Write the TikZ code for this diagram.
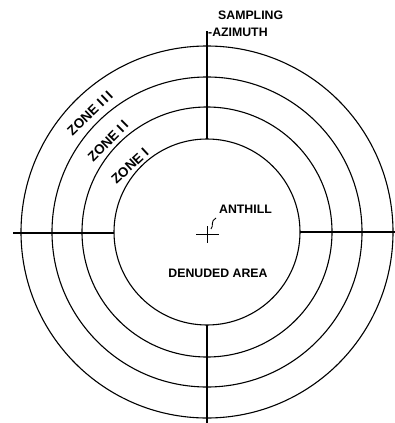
\documentclass[tikz,border=0pt]{standalone}
\usepackage{fontspec}
\setmainfont{Liberation Sans}
\begin{document}
\begin{tikzpicture}[x=1pt,y=-1pt,
  ring/.style={line width=1.1pt},
  axis/.style={line width=1.1pt},
  lbl/.style={inner sep=0pt, font=\fontsize{12.3}{13}\selectfont\bfseries},
  zone/.style={inner sep=0pt, font=\fontsize{13.5}{14}\selectfont\bfseries}]
\useasboundingbox (0,0) rectangle (395,423);
\coordinate (c) at (207,232);
% rings
\draw[ring] (c) circle[radius=186pt];
\draw[ring] (c) circle[radius=155pt];
\draw[ring] (c) circle[radius=125pt];
\draw[ring] (c) circle[radius=93pt];
% azimuth lines
\coordinate (l0) at (13,233);
\coordinate (l1) at (114,233);
\coordinate (r0) at (300,232);
\coordinate (r1) at (395,232);
\coordinate (t0) at (207,31);
\coordinate (t1) at (207,139);
\coordinate (b0) at (207,325);
\coordinate (b1) at (207,423);
\draw[axis] (l0) -- (l1);
\draw[axis] (r0) -- (r1);
\draw[axis] (t0) -- (t1);
\draw[axis] (b0) -- (b1);
% anthill cross
\coordinate (a) at (207,234);
\draw[line width=1pt] (196,234) -- (219,234);
\draw[line width=1pt] (207,226) -- (207,243);
\coordinate (q0) at (211,229);
\coordinate (q1) at (216,218);
\draw[line width=0.9pt] (q0) .. controls (214,226) and (210,221) .. (q1);
% labels
\node[lbl, anchor=west] (anthill) at (219,209) {ANTHILL};
\node[lbl] (denuded) at (218,273) {DENUDED AREA};
\node[lbl, anchor=west] (sampling) at (218,15) {SAMPLING};
\node[lbl, anchor=west] (azimuth) at (208,32) {-AZIMUTH};
\node[zone, rotate=44] (z3) at (90,113) {ZONE I\,I\,I};
\node[zone, rotate=45] (z2) at (108,141) {ZONE I\,I};
\node[zone, rotate=43] (z1) at (130,166) {ZONE I};
\end{tikzpicture}
\end{document}
